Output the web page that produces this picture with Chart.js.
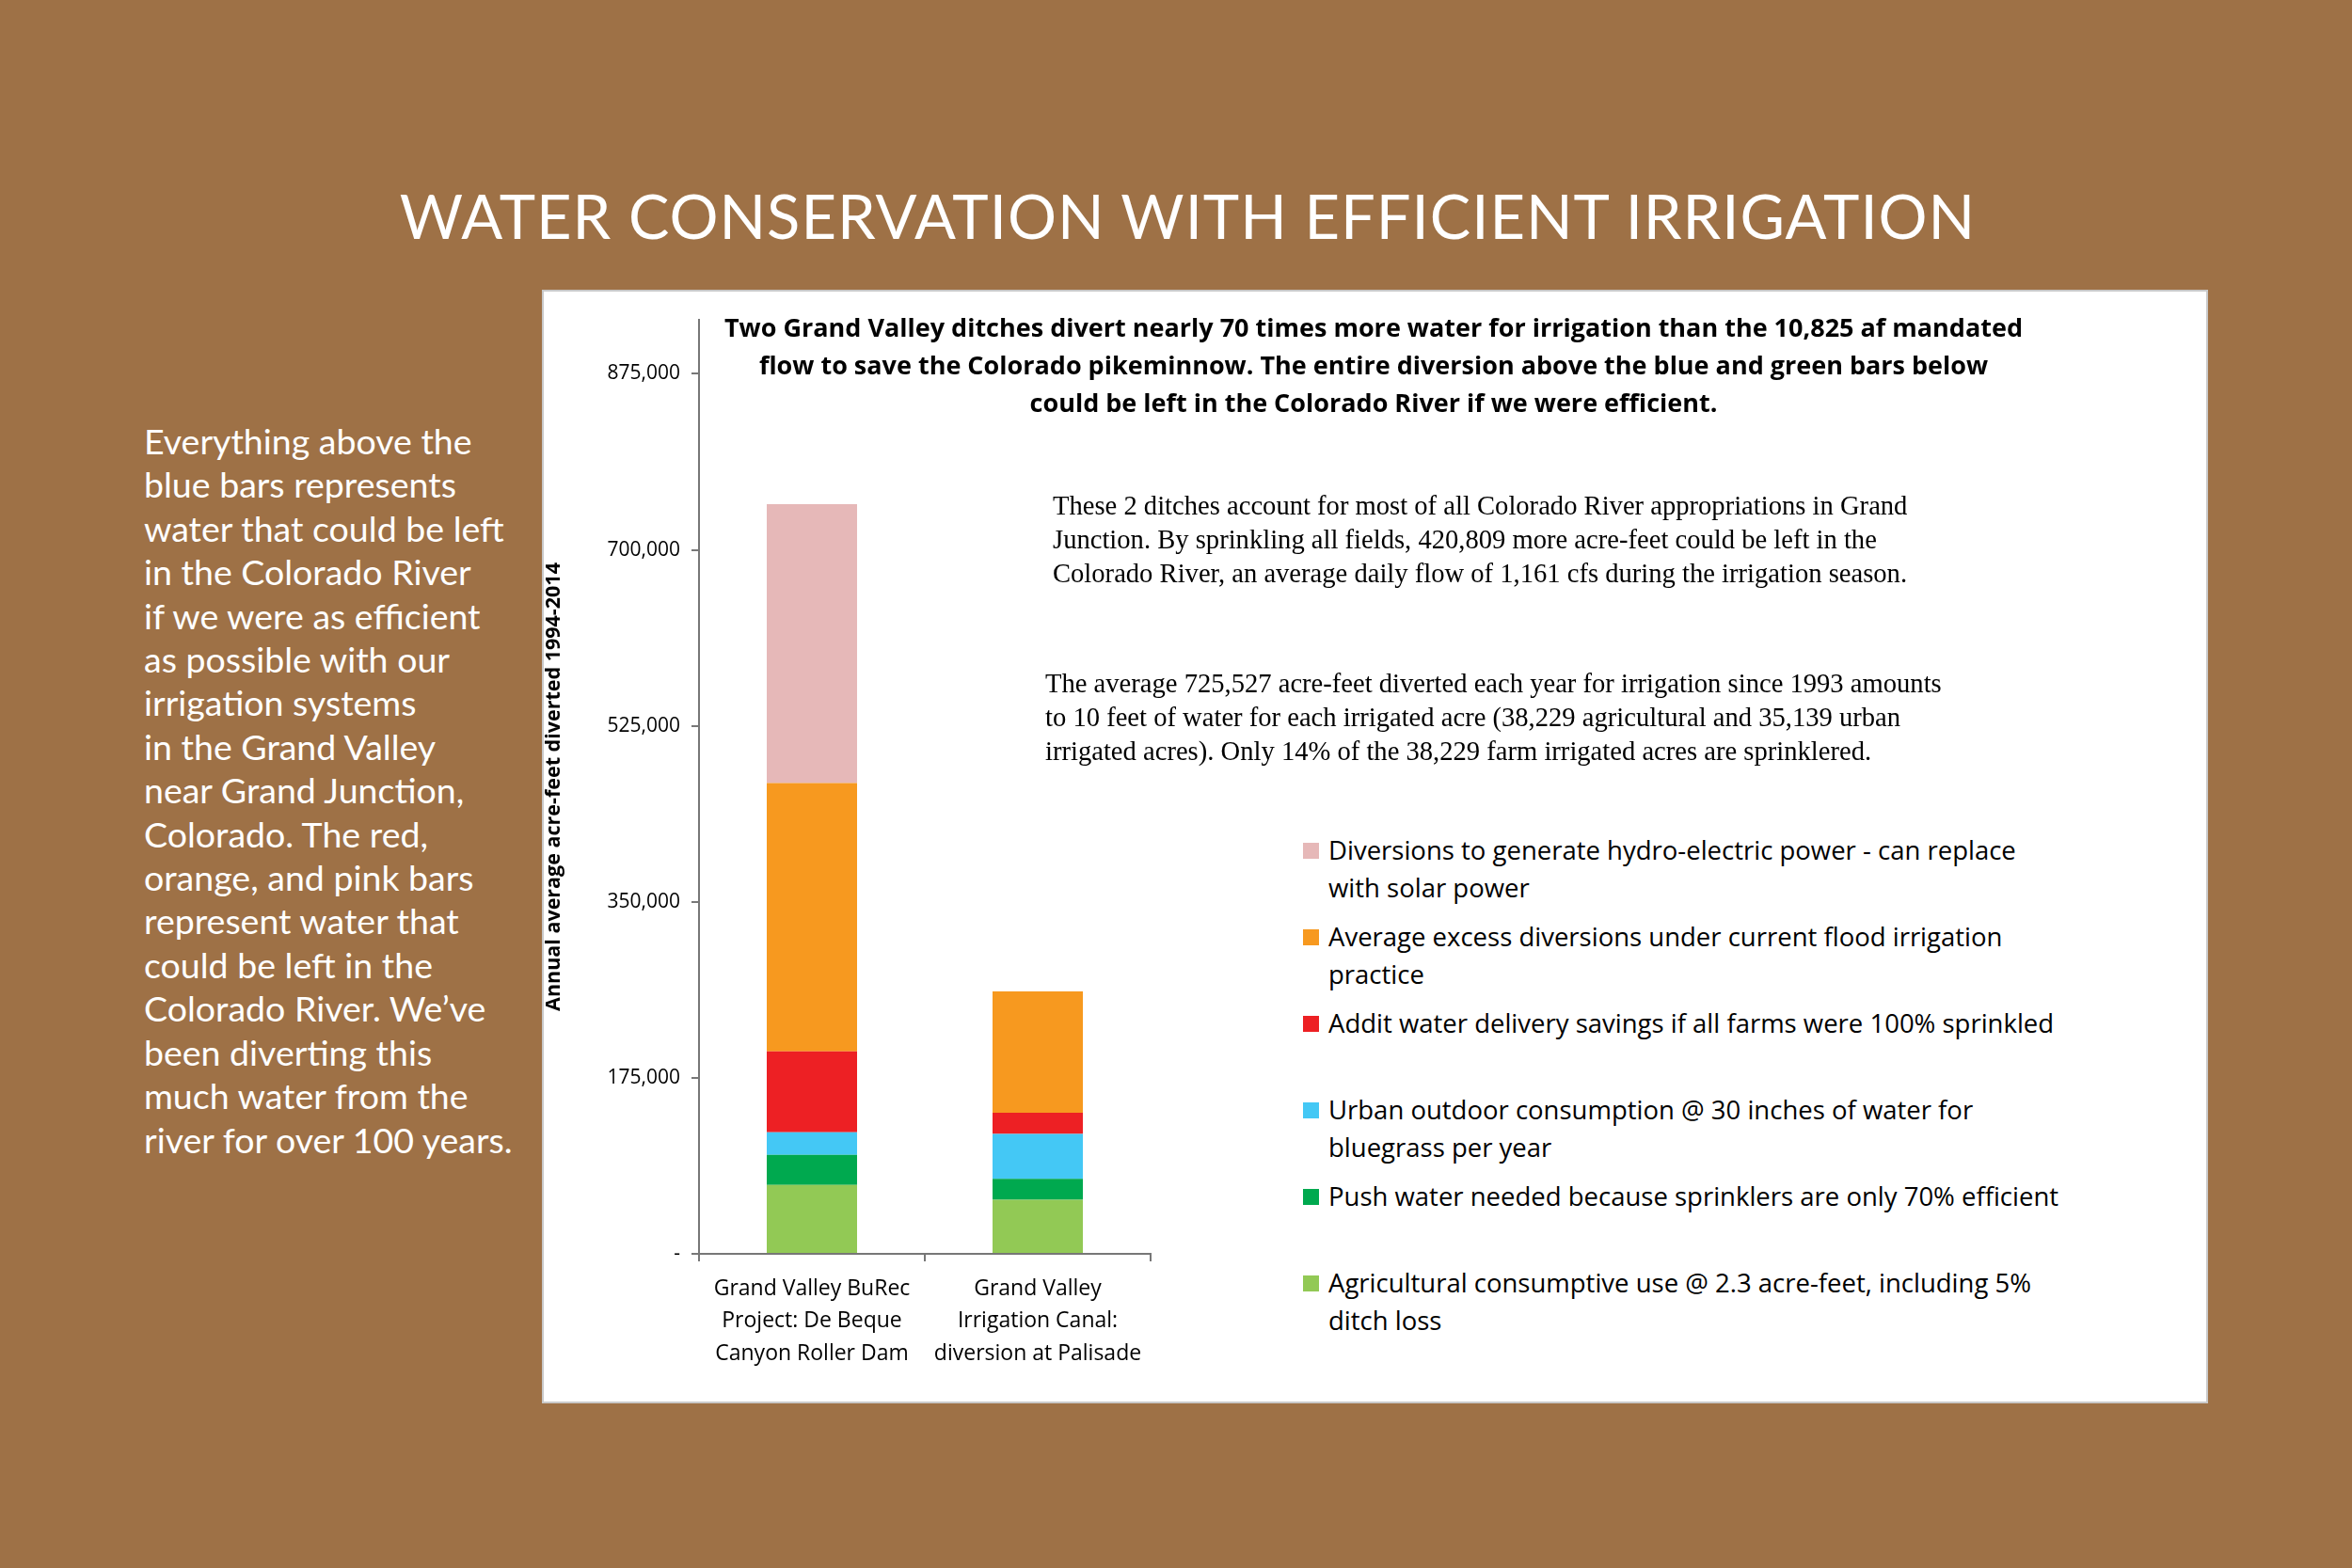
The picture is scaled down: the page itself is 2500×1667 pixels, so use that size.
<!DOCTYPE html>
<html><head><meta charset="utf-8">
<script src="https://cdn.jsdelivr.net/npm/chart.js@4"></script>
<style>
body{margin:0;width:2500px;height:1667px;background:#9E7146;position:relative;overflow:hidden;font-family:"Open Sans",sans-serif}
.abs{position:absolute}
#title{left:0;width:2525px;top:190px;text-align:center;color:#fff;font:400 65px Lato,sans-serif;letter-spacing:1px}
#side{left:153px;top:446px;color:#fff;font:400 37.5px Lato,sans-serif;line-height:46.4px}
#panel{left:576px;top:308px;width:1771px;height:1184px;background:#fff;border:2px solid #c9c9c9;box-sizing:border-box}
#wrap{left:576px;top:308px;width:700px;height:1184px}
#head{left:700px;width:1520px;top:328px;text-align:center;font:700 27px "Open Sans",sans-serif;line-height:40px;color:#000}
.serif{font:28.6px "Liberation Serif",serif;line-height:36px;color:#000}
#leg{left:1385px;top:884px;font:27.5px "Open Sans",sans-serif;color:#000;line-height:40px}
.li{position:absolute;left:0;width:900px}
.sq{position:absolute;left:0;top:12px;width:17px;height:17px}
.lt{margin-left:27px}
</style></head><body>
<div id="title" class="abs">WATER CONSERVATION WITH EFFICIENT IRRIGATION</div>
<div id="side" class="abs">Everything above the<br>blue bars represents<br>water that could be left<br>in the Colorado River<br>if we were as efficient<br>as possible with our<br>irrigation systems<br>in the Grand Valley<br>near Grand Junction,<br>Colorado. The red,<br>orange, and pink bars<br>represent water that<br>could be left in the<br>Colorado River. We’ve<br>been diverting this<br>much water from the<br>river for over 100 years.</div>
<div id="panel" class="abs"></div>
<div id="wrap" class="abs"><canvas id="c" width="700" height="1184"></canvas></div>
<div id="head" class="abs">Two Grand Valley ditches divert nearly 70 times more water for irrigation than the 10,825 af mandated<br>flow to save the Colorado pikeminnow. The entire diversion above the blue and green bars below<br>could be left in the Colorado River if we were efficient.</div>
<div class="abs serif" style="left:1119px;top:520px">These 2 ditches account for most of all Colorado River appropriations in Grand<br>Junction. By sprinkling all fields, 420,809 more acre-feet could be left in the<br>Colorado River, an average daily flow of 1,161 cfs during the irrigation season.</div>
<div class="abs serif" style="left:1111px;top:709px">The average 725,527 acre-feet diverted each year for irrigation since 1993 amounts<br>to 10 feet of water for each irrigated acre (38,229 agricultural and 35,139 urban<br>irrigated acres). Only 14% of the 38,229 farm irrigated acres are sprinklered.</div>
<div id="leg" class="abs"></div>
<script>
const categories = [['Grand Valley BuRec', 'Project: De Beque', 'Canyon Roller Dam'], ['Grand Valley', 'Irrigation Canal:', 'diversion at Palisade']];
const seriesNames = ['Agricultural consumptive use @ 2.3 acre-feet, including 5% ditch loss',
  'Push water needed because sprinklers are only 70% efficient',
  'Urban outdoor consumption @ 30 inches of water for bluegrass per year',
  'Addit water delivery savings if all farms were 100% sprinkled',
  'Average excess diversions under current flood irrigation practice',
  'Diversions to generate hydro-electric power - can replace with solar power'];
const seriesColors = ['#92C955', '#00A94F', '#44C8F5', '#ED2024', '#F7991F', '#E6B8B8'];
const agricultural = [68600, 53700];
const pushWater = [29800, 20900];
const urbanOutdoor = [22400, 44700];
const additSavings = [80500, 20900];
const excessFlood = [266800, 120700];
const hydroPower = [277400, 0];
const yTicks = [0, 175000, 350000, 525000, 700000, 875000];
const seriesValues = [agricultural, pushWater, urbanOutdoor, additSavings, excessFlood, hydroPower];

// legend (top to bottom is reverse stacking order)
const legTops = [0, 92, 184, 276, 368, 460];
const legWidths = [780, 780, 900, 780, 900, 800];
const leg = document.getElementById('leg');
seriesNames.slice().reverse().forEach((name, i) => {
  const idx = seriesNames.length - 1 - i;
  leg.innerHTML += `<div class="li" style="top:${legTops[i]}px"><span class="sq" style="background:${seriesColors[idx]}"></span><div class="lt" style="width:${legWidths[i]}px">${name}</div></div>`;
});

new Chart(document.getElementById('c'), {
  type: 'bar',
  data: {
    labels: categories,
    datasets: seriesValues.map((v, i) => ({
      label: seriesNames[i], data: v, backgroundColor: seriesColors[i],
      barPercentage: 0.4, categoryPercentage: 1
    }))
  },
  options: {
    responsive: false, animation: false,
    layout: { padding: { top: 32, right: 53, left: 0, bottom: 0 } },
    plugins: { legend: { display: false }, tooltip: { enabled: false } },
    scales: {
      x: {
        stacked: true,
        grid: { offset: true, drawOnChartArea: false, color: '#777', tickLength: 8, lineWidth: 2 },
        border: { color: '#777', width: 2 },
        ticks: { color: '#000', font: { size: 23, family: 'Open Sans', lineHeight: 1.5 }, padding: 12, maxRotation: 0 },
        afterFit: s => { s.height = 159; }
      },
      y: {
        stacked: true, min: 0, max: 928700,
        afterBuildTicks: s => { s.ticks = yTicks.map(v => ({ value: v })); },
        grid: { drawOnChartArea: false, color: '#777', tickLength: 8, lineWidth: 2 },
        border: { color: '#777', width: 2 },
        ticks: { color: '#000', font: { size: 21, family: 'Open Sans' }, padding: 12,
          callback: v => v === 0 ? '-' : v.toLocaleString('en-US') },
        title: { display: true, text: 'Annual average acre-feet diverted 1994-2014', color: '#000',
          font: { size: 21.5, weight: 'bold', family: 'Open Sans' }, padding: 0 },
        afterFit: s => { s.width = 167; }
      }
    }
  }
});
</script>
</body></html>
